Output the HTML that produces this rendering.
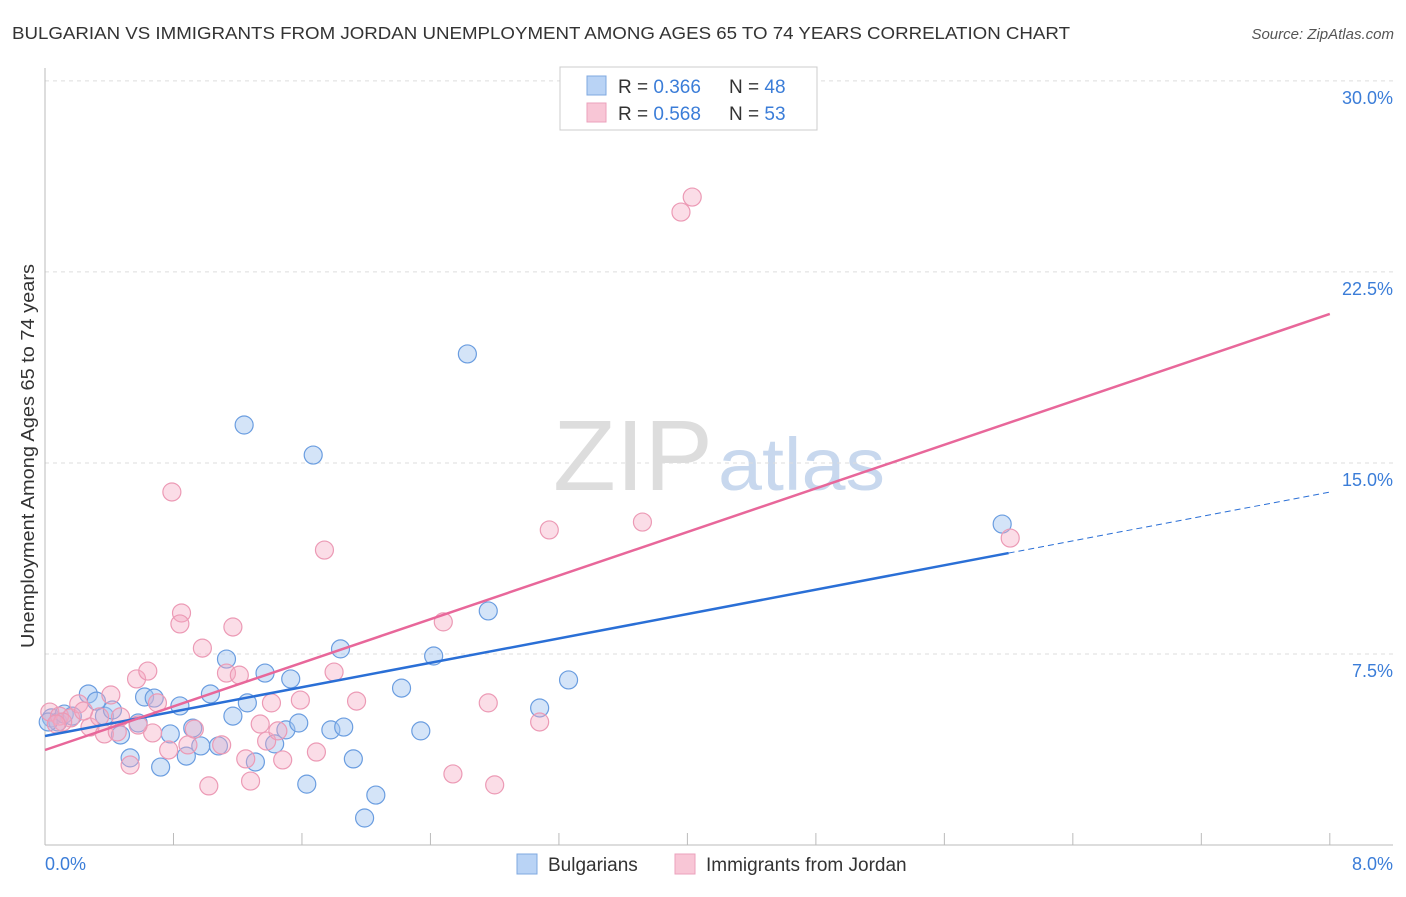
<!DOCTYPE html>
<html><head><meta charset="utf-8"><style>
body{margin:0;background:#fff;font-family:"Liberation Sans",sans-serif;}
svg text{font-family:"Liberation Sans",sans-serif;}
</style></head><body>
<svg id="c" width="1406" height="892" xmlns="http://www.w3.org/2000/svg">
<text x="12" y="39" font-size="17.5" fill="#333" textLength="1058" lengthAdjust="spacingAndGlyphs">BULGARIAN VS IMMIGRANTS FROM JORDAN UNEMPLOYMENT AMONG AGES 65 TO 74 YEARS CORRELATION CHART</text>
<text x="1394" y="39" font-size="15" fill="#555" text-anchor="end" font-style="italic">Source: ZipAtlas.com</text>
<g><text x="553" y="490" font-size="100" fill="#ddd" font-family="Liberation Serif" textLength="160" lengthAdjust="spacingAndGlyphs">ZIP</text><text x="718" y="490" font-size="74" fill="#c8d8ee" textLength="167" lengthAdjust="spacingAndGlyphs">atlas</text></g>
<g id="grid"></g><g id="pts"></g><g id="lines"></g>
<text transform="translate(34,456) rotate(-90)" font-size="18" fill="#333" text-anchor="middle" textLength="384" lengthAdjust="spacingAndGlyphs">Unemployment Among Ages 65 to 74 years</text>
<g>
<rect x="560" y="67" width="257" height="63" fill="#fff" stroke="#ccc"/>
<rect x="587" y="76" width="19" height="19" fill="#b9d3f5" stroke="#7fa8e0"/>
<rect x="587" y="103" width="19" height="19" fill="#f8c6d6" stroke="#eba2bc"/>
<text x="618" y="93" font-size="19" fill="#333">R = <tspan fill="#3b7dd8">0.366</tspan></text>
<text x="729" y="93" font-size="19" fill="#333">N = <tspan fill="#3b7dd8">48</tspan></text>
<text x="618" y="120" font-size="19" fill="#333">R = <tspan fill="#3b7dd8">0.568</tspan></text>
<text x="729" y="120" font-size="19" fill="#333">N = <tspan fill="#3b7dd8">53</tspan></text>
</g>
<g>
<rect x="517" y="854" width="20" height="20" fill="#b9d3f5" stroke="#7fa8e0"/>
<text x="548" y="871" font-size="19" fill="#333">Bulgarians</text>
<rect x="675" y="854" width="20" height="20" fill="#f8c6d6" stroke="#eba2bc"/>
<text x="706" y="871" font-size="19" fill="#333">Immigrants from Jordan</text>
</g>
</svg>
<script>
const yTicks=[7.5,15,22.5,30];
const yTickLabels=["7.5%","15.0%","22.5%","30.0%"];
const xTickLabels=["0.0%","8.0%"];
const bx=[0.04,0.08,0.12,0.17,0.27,0.32,0.37,0.42,0.47,0.53,0.58,0.62,0.68,0.72,0.78,0.84,0.88,0.92,0.97,1.03,1.08,1.13,1.17,1.24,1.26,1.31,1.37,1.43,1.50,1.53,1.58,1.63,1.67,1.78,1.84,1.86,1.92,1.99,2.06,2.22,2.34,2.42,2.63,2.76,3.08,3.26,5.96,0.02];
const by=[4.99,4.83,5.14,5.06,5.93,5.65,5.06,5.30,4.32,3.42,4.79,5.81,5.77,3.06,4.36,5.46,3.49,4.59,3.89,5.93,3.89,7.30,5.06,16.49,5.58,3.26,6.75,3.97,4.52,6.52,4.79,2.39,15.31,4.52,7.70,4.63,3.38,1.06,1.96,6.16,4.48,7.42,19.28,9.19,5.38,6.48,12.60,4.83];
const px=[0.03,0.09,0.16,0.21,0.28,0.34,0.37,0.41,0.45,0.53,0.57,0.64,0.67,0.70,0.77,0.79,0.85,0.84,0.89,0.93,0.98,1.02,1.10,1.13,1.17,1.21,1.25,1.28,1.34,1.38,1.41,1.45,1.48,1.59,1.69,1.74,1.80,1.94,2.48,2.76,2.80,3.08,3.14,2.54,3.72,3.96,4.03,6.01,0.11,0.47,0.24,0.07,0.58];
const py=[5.22,5.06,4.99,5.54,4.63,5.03,4.36,5.89,4.44,3.14,6.52,6.83,4.40,5.58,3.73,13.86,9.11,8.68,3.93,4.55,7.73,2.32,3.93,6.75,8.56,6.67,3.38,2.51,4.75,4.08,5.58,4.48,3.34,5.69,3.65,11.58,6.79,5.65,8.76,5.58,2.36,4.83,12.37,2.79,12.68,24.85,25.44,12.05,4.83,5.03,5.26,4.75,4.71];
const blueFit=[4.28,1.197], pinkFit=[3.73,2.14];
const X=v=>45+v*160.6, Y=v=>845-v*25.47;
const NS="http://www.w3.org/2000/svg";
function mk(p,t,a){const e=document.createElementNS(NS,t);for(const k in a)e.setAttribute(k,a[k]);document.getElementById(p).appendChild(e);return e;}
yTicks.forEach((t,i)=>{
 const l=mk('grid','line',{x1:45,x2:1393,y1:Y(t),y2:Y(t),stroke:'#ddd','stroke-dasharray':'4,4'});
 
 
 const tx=mk('grid','text',{x:1393,y:Y(t)+23,'font-size':18,fill:'#3b7dd8','text-anchor':'end'});tx.textContent=yTickLabels[i];
 
 
});
let ax=mk('grid','line',{x1:45,x2:45,y1:68,y2:845,stroke:'#bbb'});


ax=mk('grid','line',{x1:45,x2:1393,y1:845,y2:845,stroke:'#bbb'});


for(let i=1;i<=10;i++){const t=mk('grid','line',{x1:X(i*0.8),x2:X(i*0.8),y1:833,y2:845,stroke:'#bbb'});
 
 }
[[0,'start',45],[1,'end',1393]].forEach(([i,a,x])=>{const t=mk('grid','text',{x:x,y:870,'font-size':18,fill:'#3b7dd8','text-anchor':a});t.textContent=xTickLabels[i];
 
 });
bx.forEach((v,i)=>{const c=mk('pts','circle',{cx:X(v),cy:Y(by[i]),r:9,fill:'rgba(160,196,240,0.45)',stroke:'#6a9de0','stroke-width':1.2});
 
 });
px.forEach((v,i)=>{const c=mk('pts','circle',{cx:X(v),cy:Y(py[i]),r:9,fill:'rgba(244,170,195,0.4)',stroke:'#ec9ab5','stroke-width':1.2});
 
 });
let l=mk('lines','line',{x1:X(0),y1:Y(blueFit[0]),x2:X(6),y2:Y(blueFit[0]+6*blueFit[1]),stroke:'#2a6fd6','stroke-width':2.5});


l=mk('lines','line',{x1:X(6),y1:Y(blueFit[0]+6*blueFit[1]),x2:X(8),y2:Y(blueFit[0]+8*blueFit[1]),stroke:'#2a6fd6','stroke-width':1,'stroke-dasharray':'6,4'});


l=mk('lines','line',{x1:X(0),y1:Y(pinkFit[0]),x2:X(8),y2:Y(pinkFit[0]+8*pinkFit[1]),stroke:'#e8679a','stroke-width':2.5});


</script>
</body></html>
